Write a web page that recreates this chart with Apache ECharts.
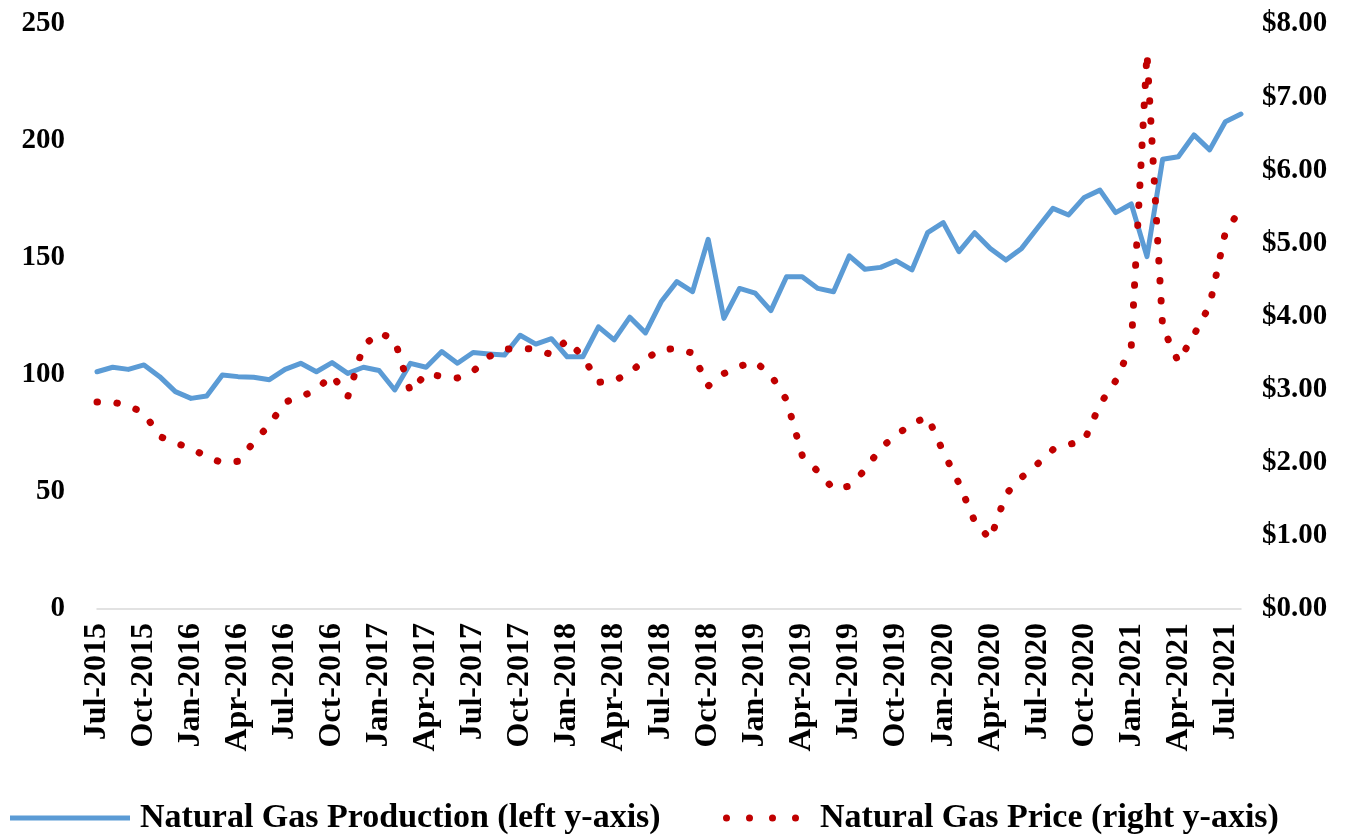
<!DOCTYPE html>
<html>
<head>
<meta charset="utf-8">
<script src="https://cdn.jsdelivr.net/npm/echarts@6/dist/echarts.min.js"></script>
<style>
html,body{margin:0;padding:0;background:#fff;}
#chart{width:1360px;height:838px;}
</style>
</head>
<body>
<div id="chart"></div>
<script>
const categories = [
  'Jul-2015','Aug-2015','Sep-2015','Oct-2015','Nov-2015','Dec-2015',
  'Jan-2016','Feb-2016','Mar-2016','Apr-2016','May-2016','Jun-2016',
  'Jul-2016','Aug-2016','Sep-2016','Oct-2016','Nov-2016','Dec-2016',
  'Jan-2017','Feb-2017','Mar-2017','Apr-2017','May-2017','Jun-2017',
  'Jul-2017','Aug-2017','Sep-2017','Oct-2017','Nov-2017','Dec-2017',
  'Jan-2018','Feb-2018','Mar-2018','Apr-2018','May-2018','Jun-2018',
  'Jul-2018','Aug-2018','Sep-2018','Oct-2018','Nov-2018','Dec-2018',
  'Jan-2019','Feb-2019','Mar-2019','Apr-2019','May-2019','Jun-2019',
  'Jul-2019','Aug-2019','Sep-2019','Oct-2019','Nov-2019','Dec-2019',
  'Jan-2020','Feb-2020','Mar-2020','Apr-2020','May-2020','Jun-2020',
  'Jul-2020','Aug-2020','Sep-2020','Oct-2020','Nov-2020','Dec-2020',
  'Jan-2021','Feb-2021','Mar-2021','Apr-2021','May-2021','Jun-2021',
  'Jul-2021','Aug-2021'
];
const productionName = 'Natural Gas Production (left y-axis)';
const priceName = 'Natural Gas Price (right y-axis)';
const production = [
  101.4,103.3,102.4,104.3,99.3,92.9,
  90.0,91.0,100.0,99.3,99.0,98.0,
  102.4,105.0,101.4,105.3,100.7,103.3,
  101.9,93.6,105.0,103.3,110.0,105.0,
  109.6,109.0,108.5,117.0,113.2,115.5,
  107.8,107.8,120.6,115.0,124.7,118.0,
  131.3,139.9,135.6,158.0,124.2,137.0,
  135.0,127.5,142.0,142.0,137.0,135.6,
  150.9,145.2,146.0,148.8,144.9,160.8,
  165.1,152.7,160.8,154.1,149.1,154.1,
  162.7,171.2,168.4,175.9,179.0,169.4,
  173.1,150.6,192.2,193.3,202.6,196.2,
  208.2,211.5
];
const price = [
  2.83,2.83,2.78,2.68,2.36,2.27,
  2.20,2.08,2.00,2.02,2.28,2.52,
  2.83,2.90,3.00,3.20,2.90,3.60,
  3.78,3.68,2.97,3.22,3.18,3.16,
  3.25,3.45,3.55,3.57,3.55,3.48,
  3.68,3.45,3.10,3.12,3.23,3.42,
  3.55,3.56,3.50,3.05,3.22,3.32,
  3.38,3.20,2.86,2.10,1.88,1.64,
  1.68,1.90,2.20,2.38,2.53,2.63,
  2.15,1.72,1.20,0.95,1.57,1.80,
  1.98,2.18,2.25,2.30,2.80,3.12,
  3.60,7.60,3.85,3.38,3.75,4.15,
  5.15,5.48
];
const leftTicks = [0, 250, 50];   // min, max, interval
const rightTicks = [0, 8, 1];

const FONT = "'Liberation Serif', 'Times New Roman', serif";
const yLabelStyle = {fontFamily: FONT, fontWeight: 'bold', fontSize: 29, color: '#000'};
const xLabelStyle = {fontFamily: FONT, fontWeight: 'bold', fontSize: 32, color: '#000'};
const legendText = {fontFamily: FONT, fontWeight: 'bold', fontSize: 34, color: '#000'};

// four round dots for the price legend marker
const dotsIcon = 'path://' + [3.5, 26.5, 49.5, 72.5].map(c =>
  'M' + (c - 3.5) + ',3.5a3.5,3.5,0,1,0,7,0a3.5,3.5,0,1,0,-7,0Z').join(' ');

const chart = echarts.init(document.getElementById('chart'), null, {renderer: 'canvas'});
chart.setOption({
  animation: false,
  backgroundColor: '#fff',
  grid: {left: 97, right: 119, top: 24, bottom: 229, containLabel: false},
  legend: [
    {
      data: [{name: productionName, icon: 'rect'}], left: 5, top: 796,
      itemWidth: 120, itemHeight: 5,
      itemStyle: {color: '#5B9BD5'},
      textStyle: Object.assign({padding: [0, 0, 0, 5]}, legendText)
    },
    {
      data: [{name: priceName, icon: dotsIcon}], left: 718, top: 796,
      itemWidth: 76, itemHeight: 7,
      itemStyle: {color: '#C00000'},
      textStyle: Object.assign({padding: [0, 0, 0, 16]}, legendText)
    }
  ],
  xAxis: {
    type: 'category', data: categories, boundaryGap: false,
    axisLine: {lineStyle: {color: '#D9D9D9', width: 1.5}},
    axisTick: {show: false},
    axisLabel: Object.assign({rotate: 90, interval: 2, margin: 14}, xLabelStyle),
    splitLine: {show: false}
  },
  yAxis: [
    {
      type: 'value', min: leftTicks[0], max: leftTicks[1], interval: leftTicks[2],
      axisLine: {show: false}, axisTick: {show: false}, splitLine: {show: false},
      axisLabel: Object.assign({margin: 32}, yLabelStyle)
    },
    {
      type: 'value', min: rightTicks[0], max: rightTicks[1], interval: rightTicks[2], position: 'right',
      axisLine: {show: false}, axisTick: {show: false}, splitLine: {show: false},
      axisLabel: Object.assign({margin: 21, formatter: v => '$' + v.toFixed(2)}, yLabelStyle)
    }
  ],
  series: [
    {
      name: productionName, type: 'line', yAxisIndex: 0, data: production,
      symbol: 'none', showSymbol: false, color: '#5B9BD5',
      lineStyle: {color: '#5B9BD5', width: 5, join: 'round', cap: 'round'}
    },
    {
      name: priceName, type: 'line', yAxisIndex: 1, data: price,
      symbol: 'none', showSymbol: false, color: '#C00000',
      lineStyle: {color: '#C00000', width: 7, type: [0.5, 19.5], cap: 'round', join: 'round'}
    }
  ]
});
</script>
</body>
</html>
